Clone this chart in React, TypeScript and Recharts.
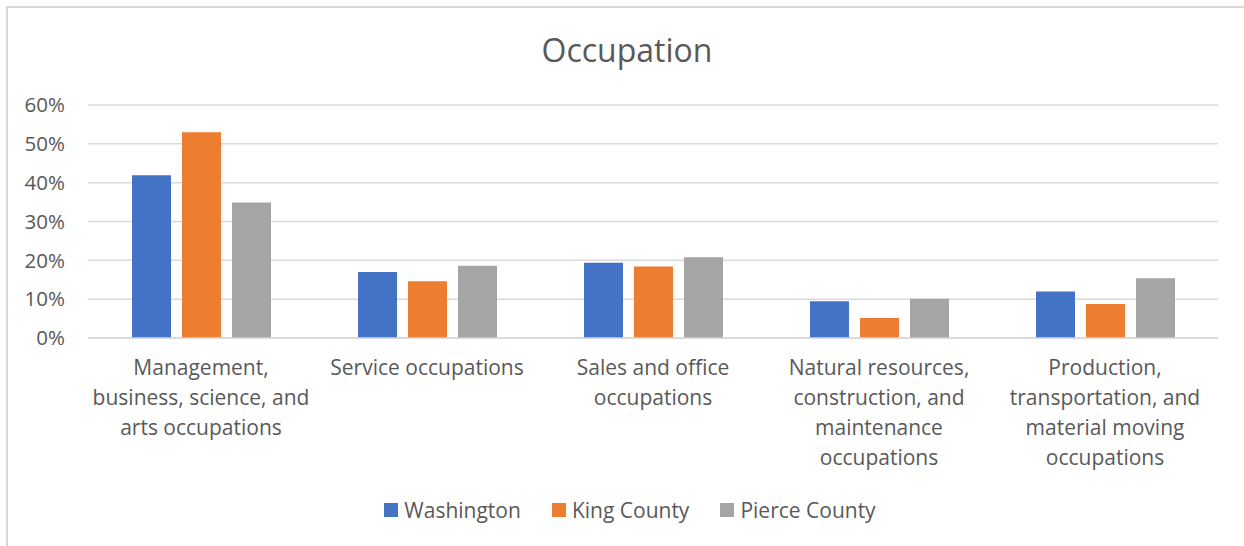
import React from "react";
import { BarChart, Bar, XAxis, YAxis, CartesianGrid, Legend } from "recharts";

const categories = [
  "Management, business, science, and arts occupations",
  "Service occupations",
  "Sales and office occupations",
  "Natural resources, construction, and maintenance occupations",
  "Production, transportation, and material moving occupations",
];

const categoryLines: string[][] = [
  ["Management,", "business, science, and", "arts occupations"],
  ["Service occupations"],
  ["Sales and office", "occupations"],
  ["Natural resources,", "construction, and", "maintenance", "occupations"],
  ["Production,", "transportation, and", "material moving", "occupations"],
];

const washington = [41.9, 17.0, 19.4, 9.45, 12.0];
const kingCounty = [53.0, 14.6, 18.4, 5.15, 8.75];
const pierceCounty = [34.9, 18.6, 20.8, 10.1, 15.4];

const seriesNames = ["Washington", "King County", "Pierce County"];
const seriesColors = ["#4472C4", "#ED7D31", "#A5A5A5"];
const yTicks = [0, 10, 20, 30, 40, 50, 60];

const data = categories.map((c, i) => ({
  category: c,
  Washington: washington[i],
  "King County": kingCounty[i],
  "Pierce County": pierceCounty[i],
}));

const FONT = "'Open Sans', sans-serif";
const TEXT = "#595959";

const XTick = (props: any) => {
  const { x, y, index } = props;
  const lines = categoryLines[index] || [];
  return (
    <g>
      {lines.map((l, i) => (
        <text
          key={i}
          x={x}
          y={y + 37 + i * 30}
          textAnchor="middle"
          fill={TEXT}
          fontSize={21}
          fontFamily={FONT}
        >
          {l}
        </text>
      ))}
    </g>
  );
};

const LegendContent = () => (
  <div
    style={{
      height: 30,
      display: "flex",
      justifyContent: "center",
      alignItems: "center",
      fontFamily: FONT,
      fontSize: 21,
      color: TEXT,
      paddingLeft: 16,
      boxSizing: "border-box",
    }}
  >
    {seriesNames.map((n, i) => (
      <div key={n} style={{ display: "flex", alignItems: "center", marginLeft: i === 0 ? 0 : 31 }}>
        <div style={{ width: 14, height: 14, background: seriesColors[i], marginRight: 6 }} />
        <span>{n}</span>
      </div>
    ))}
  </div>
);

export default function App() {
  return (
    <div
      style={{
        position: "absolute",
        left: 0,
        top: 0,
        width: 1244,
        height: 546,
        background: "#fff",
        overflow: "hidden",
      }}
    >
      <div
        style={{
          position: "absolute",
          left: 6,
          top: 6,
          width: 1260,
          height: 560,
          border: "2px solid #d9d9d9",
          boxSizing: "border-box",
        }}
      />
      <div
        style={{
          position: "absolute",
          left: 0,
          top: 26,
          width: 1254,
          textAlign: "center",
          fontFamily: FONT,
          fontSize: 32,
          color: TEXT,
          lineHeight: "48px",
        }}
      >
        Occupation
      </div>
      <div style={{ position: "absolute", left: 0, top: 0 }}>
        <BarChart
          width={1244}
          height={546}
          data={data}
          margin={{ top: 105, right: 26, left: 0, bottom: 0 }}
          barSize={39}
          barGap={11}
        >
          <CartesianGrid vertical={false} stroke="#d9d9d9" strokeWidth={1.5} />
          <XAxis
            dataKey="category"
            height={178}
            tickLine={false}
            tickSize={0}
            tickMargin={0}
            axisLine={{ stroke: "#d9d9d9", strokeWidth: 1.5 }}
            tick={<XTick />}
            interval={0}
          />
          <YAxis
            width={88}
            domain={[0, 60]}
            ticks={yTicks}
            tickFormatter={(v: number) => `${v}%`}
            axisLine={false}
            tickLine={false}
            tickSize={0}
            tickMargin={23}
            tick={{ fill: TEXT, fontSize: 20.5, fontFamily: FONT }}
          />
          <Legend
            verticalAlign="bottom"
            content={<LegendContent />}
            wrapperStyle={{ top: 495, left: 0, width: 1244 }}
          />
          {seriesNames.map((n, i) => (
            <Bar key={n} dataKey={n} fill={seriesColors[i]} isAnimationActive={false} />
          ))}
        </BarChart>
      </div>
    </div>
  );
}
